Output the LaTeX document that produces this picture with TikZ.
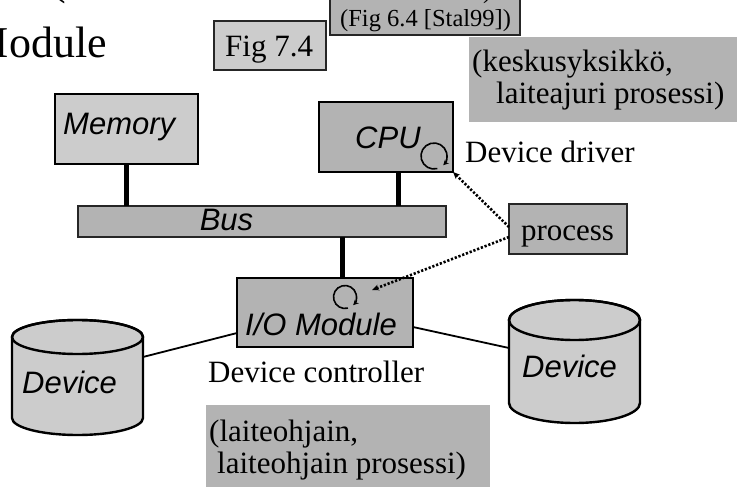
\documentclass[tikz,border=0pt]{standalone}
\usepackage{fontspec}
\setmainfont{Liberation Serif}
\setsansfont{Liberation Sans}
\usetikzlibrary{arrows.meta}
\definecolor{lgray}{HTML}{CCCCCC}
\definecolor{mgray}{HTML}{B3B3B3}
\begin{document}
\begin{tikzpicture}[x=1pt,y=-1pt,
  unitbox/.style={draw=black, line width=2.2pt, inner sep=0pt, outer sep=0pt},
  thinbox/.style={draw=black!85, line width=1.3pt, inner sep=0pt, outer sep=0pt},
  plainbox/.style={draw=none, fill=mgray, inner sep=0pt, outer sep=0pt},
  sanslbl/.style={font=\fontsize{31}{31}\selectfont\sffamily\itshape, inner sep=0pt},
  seriflbl/.style={font=\fontsize{31}{31}\selectfont, inner sep=0pt},
  smallserif/.style={font=\fontsize{24.5}{24.5}\selectfont, inner sep=0pt},
  bigserif/.style={font=\fontsize{44}{44}\selectfont, inner sep=0pt},
  wire/.style={line width=5pt},
  link/.style={line width=1.8pt},
  dotarrow/.style={line width=2.6pt, dash pattern=on 2.2pt off 1.8pt, -{Stealth[length=7pt,width=6pt]}},
  looparrow/.style={line width=1.6pt, -{Stealth[length=5.5pt,width=5.5pt]}},
  cyl/.style={draw=black, line width=2.4pt, fill=lgray}
]
\useasboundingbox (0,0) rectangle (737,487);

% title fragments
\node[bigserif, anchor=base east] (title) at (107,58) {Module};
\node[bigserif, anchor=base west] (paren) at (51,-5) {(};

% reference boxes
\node[thinbox, fill=lgray, minimum width=112pt, minimum height=49pt] (fig74) at (270,45.5) {};
\node[seriflbl, anchor=base west] (fig74t) at (225,57) {Fig 7.4};
\node[thinbox, fill=mgray, minimum width=190pt, minimum height=70pt] (stal) at (425,0) {};
\node[smallserif, anchor=base west] (stalt0) at (483,-1) {)};
\node[smallserif, anchor=base west] (stalt) at (340,27) {(Fig 6.4 [Stal99])};

% gray note boxes
\node[plainbox, minimum width=272pt, minimum height=85pt] (keskus) at (605,79.5) {};
\node[seriflbl, anchor=base west] (keskus1) at (472,72) {(keskusyksikkö,};
\node[seriflbl, anchor=base west] (keskus2) at (496,103) {laiteajuri prosessi)};
\node[plainbox, minimum width=284pt, minimum height=90pt] (laite) at (348,450) {};
\node[seriflbl, anchor=base west] (laite1) at (209,441) {(laiteohjain,};
\node[seriflbl, anchor=base west] (laite2) at (217,473) {laiteohjain prosessi)};

% main units
\node[unitbox, fill=lgray, minimum width=143pt, minimum height=70pt] (memory) at (126.5,129) {};
\node[sanslbl, anchor=base west] (memoryt) at (63,135) {Memory};
\node[unitbox, fill=mgray, minimum width=134pt, minimum height=70pt] (cpu) at (386,137) {};
\node[sanslbl, anchor=base west] (cput) at (355,148) {CPU};
\node[thinbox, fill=mgray, minimum width=368pt, minimum height=31pt] (bus) at (262,221.5) {};
\node[sanslbl, anchor=base] (bust) at (226.5,230) {Bus};
\node[unitbox, fill=mgray, minimum width=176pt, minimum height=69pt] (io) at (325,312.5) {};
\node[sanslbl, anchor=base west] (iot) at (245,335) {I/O Module};
\node[thinbox, fill=mgray, minimum width=118pt, minimum height=50pt] (process) at (568,229) {};
\node[seriflbl, anchor=base] (processt) at (567.5,240) {process};

\node[seriflbl, anchor=base west] (driver) at (465,162) {Device driver};
\node[seriflbl, anchor=base west] (controller) at (208,382) {Device controller};

% devices (cylinders)
\path[cyl] (12,337) -- (12,418) arc[start angle=180, end angle=360, x radius=65.5pt, y radius=17pt]
  -- (143,337) arc[start angle=0, end angle=180, x radius=65.5pt, y radius=17pt] -- cycle;
\draw[line width=2.4pt] (77.5,337) ellipse [x radius=65.5pt, y radius=17pt];
\node[inner sep=0pt, outer sep=0pt, minimum width=131pt, minimum height=115pt] (dev1) at (77.5,377.5) {};
\node[sanslbl, anchor=base west] (dev1t) at (22,393) {Device};

\path[cyl] (509,320) -- (509,403) arc[start angle=180, end angle=360, x radius=65.5pt, y radius=20pt]
  -- (640,320) arc[start angle=0, end angle=180, x radius=65.5pt, y radius=20pt] -- cycle;
\draw[line width=2.4pt] (574.5,320) ellipse [x radius=65.5pt, y radius=20pt];
\node[inner sep=0pt, outer sep=0pt, minimum width=131pt, minimum height=123pt] (dev2) at (574.5,361.5) {};
\node[sanslbl, anchor=base west] (dev2t) at (522,377) {Device};

% bus connections
\draw[wire] (memory.south) -- (memory.south |- bus.north);
\draw[wire] ([xshift=12pt]cpu.south) -- ([xshift=12pt]cpu.south |- bus.north);
\draw[wire] ([xshift=17pt]io.north |- bus.south) -- ([xshift=17pt]io.north);

% device links
\draw[link] ([yshift=20.5pt]dev1.east) -- ([yshift=-20.5pt]io.west);
\draw[link] ([yshift=-14.5pt]io.east) -- ([yshift=13.5pt]dev2.west);

% process loops
\coordinate (cpuloop) at (434,156);
\draw[looparrow] ([shift={(-75:13pt)}]cpuloop) arc[start angle=-75, end angle=-405, radius=13pt];
\coordinate (ioloop) at (345,297);
\draw[looparrow] ([shift={(-75:11.5pt)}]ioloop) arc[start angle=-75, end angle=-405, radius=11.5pt];
\coordinate (iotip) at (372,290);

% dotted arrows from process
\draw[dotarrow] ([yshift=2pt]process.west) -- (cpu.south east);
\draw[dotarrow] ([yshift=-8pt]process.west) -- (iotip);
\end{tikzpicture}
\end{document}
